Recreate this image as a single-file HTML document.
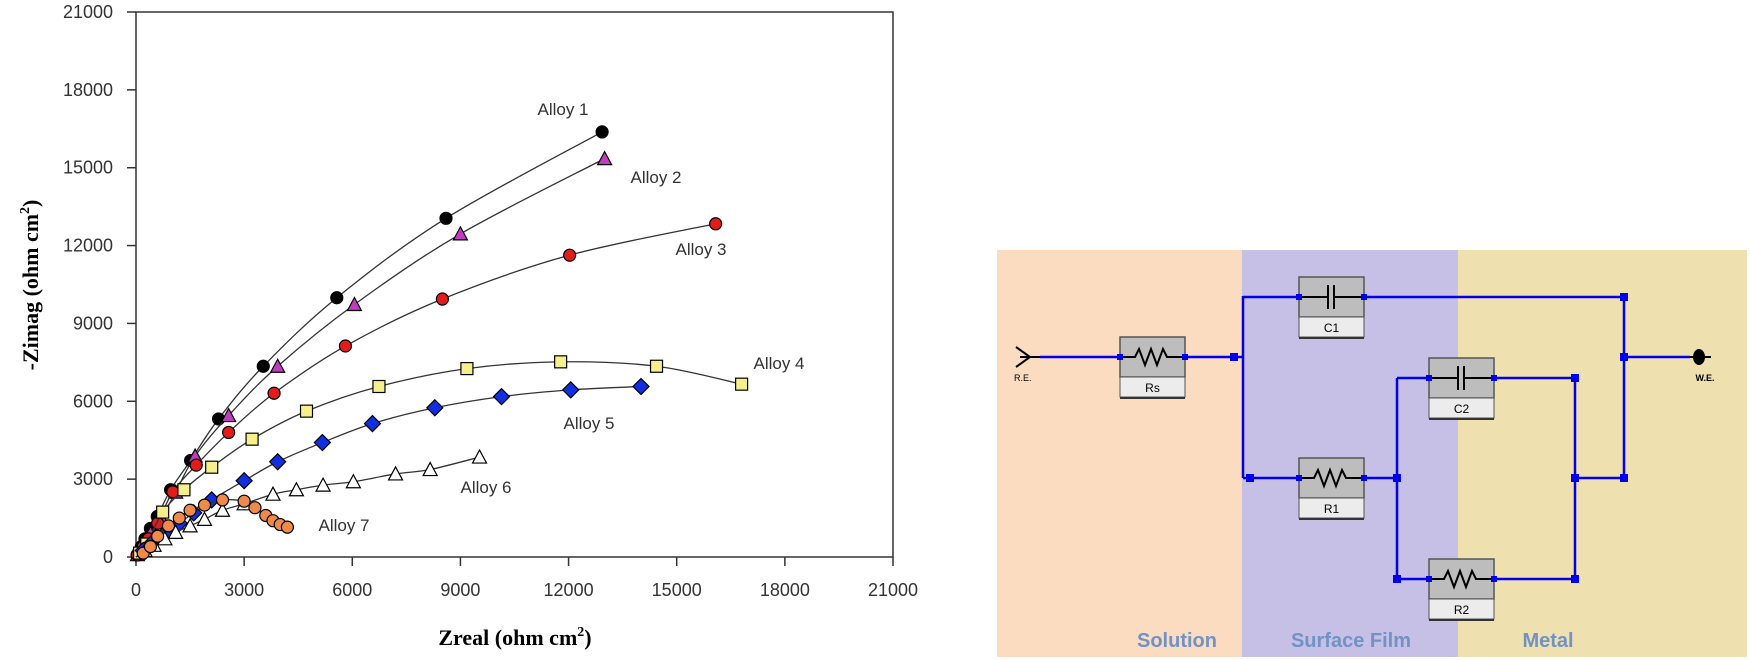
<!DOCTYPE html>
<html><head><meta charset="utf-8"><style>
body{margin:0;background:#fff;}
svg{display:block;}
</style></head><body>
<svg id="root" width="1750" height="660" xmlns="http://www.w3.org/2000/svg">
<g id="chart"></g>
<g id="circuit">
  <rect x="997" y="250" width="245" height="407" fill="#fbdcc0"/>
  <rect x="1242" y="250" width="216" height="407" fill="#c7c0e6"/>
  <rect x="1458" y="250" width="289" height="407" fill="#efe0b0"/>
  <g stroke="#0000ee" stroke-width="2.5" fill="none">
    <path d="M1040 357H1120M1185 357H1243M1243 296V478M1243 297H1299M1363 297H1624V478M1243 478H1299M1364 478H1397M1397 378V579M1397 378H1429M1493 378H1575V579M1397 579H1429M1493 579H1575M1575 478H1624M1624 357H1690"/>
  </g>
  <g fill="#0000ee">
    <rect x="1230" y="353" width="8" height="8"/><rect x="1246" y="474" width="8" height="8"/>
    <rect x="1620" y="293" width="8" height="8"/><rect x="1620" y="353" width="8" height="8"/><rect x="1620" y="474" width="8" height="8"/>
    <rect x="1393" y="474" width="8" height="8"/><rect x="1393" y="575" width="8" height="8"/>
    <rect x="1571" y="374" width="8" height="8"/><rect x="1571" y="474" width="8" height="8"/><rect x="1571" y="575" width="8" height="8"/>
  </g>
  <path d="M1016 347L1030 357L1016 367M1020 357H1040" stroke="#000" stroke-width="2" fill="none"/>
  <text x="1014" y="381" font-family="Liberation Sans,sans-serif" font-size="9">R.E.</text>
  <ellipse cx="1699" cy="357" rx="6" ry="8" fill="#000"/>
  <line x1="1690" y1="357" x2="1711" y2="357" stroke="#000" stroke-width="2"/>
  <text x="1705" y="381" text-anchor="middle" font-family="Liberation Sans,sans-serif" font-size="9" font-weight="bold">W.E.</text>
  <g id="comps"></g>
  <g font-family="Liberation Sans,sans-serif" font-size="20" font-weight="bold" fill="#7092c4" text-anchor="middle">
    <text x="1177" y="647">Solution</text>
    <text x="1351" y="647">Surface Film</text>
    <text x="1548" y="647">Metal</text>
  </g>
</g>
</svg>
<script>
const NS="http://www.w3.org/2000/svg";
const xMax=21000,yMax=21000;
const xTicks=[0,3000,6000,9000,12000,15000,18000,21000];
const yTicks=[0,3000,6000,9000,12000,15000,18000,21000];
const seriesNames=["Alloy 1","Alloy 2","Alloy 3","Alloy 4","Alloy 5","Alloy 6","Alloy 7"];
const alloy1X=[30,80,150,250,400,590,960,1515,2290,3530,5570,8600,12930];
const alloy1Y=[80,200,400,700,1100,1560,2590,3720,5320,7350,9990,13050,16380];
const alloy2X=[40,100,200,400,700,1100,1640,2570,3930,6060,9000,13000];
const alloy2Y=[90,230,450,900,1500,2500,3890,5450,7350,9730,12450,15350];
const alloy3X=[40,100,200,350,600,1020,1670,2570,3830,5810,8500,12030,16080];
const alloy3Y=[80,200,400,700,1300,2510,3540,4800,6310,8130,9940,11630,12840];
const alloy4X=[100,300,740,1330,2100,3220,4730,6740,9180,11780,14440,16800];
const alloy4Y=[150,500,1730,2590,3460,4540,5620,6570,7260,7520,7350,6660];
const alloy5X=[200,450,800,1200,1600,2100,3000,3930,5170,6560,8290,10140,12060,14010];
const alloy5Y=[250,550,900,1300,1700,2200,2940,3670,4410,5140,5750,6180,6440,6570];
const alloy6X=[250,500,800,1100,1500,1900,2400,3000,3800,4450,5190,6030,7200,8160,9530];
const alloy6Y=[250,450,700,950,1200,1450,1800,2050,2420,2590,2770,2900,3200,3370,3850];
const alloy7X=[200,400,600,900,1200,1500,1900,2400,3000,3300,3600,3800,4000,4200];
const alloy7Y=[150,400,800,1200,1500,1800,2000,2200,2150,1900,1600,1400,1250,1150];
const X0=136,X1=893,Y0=557,Y1=12;
const sx=v=>X0+(X1-X0)*v/xMax, sy=v=>Y0-(Y0-Y1)*v/yMax;
const chart=document.getElementById('chart');
function mk(tag,attrs,parent){const e=document.createElementNS(NS,tag);for(const k in attrs)e.setAttribute(k,attrs[k]);(parent||chart).appendChild(e);return e;}
const frame=mk('rect',{x:X0,y:Y1,width:X1-X0,height:Y0-Y1,fill:'none',stroke:'#333','stroke-width':1.5});


xTicks.forEach(t=>{
  const l=mk('line',{x1:sx(t),x2:sx(t),y1:Y0,y2:Y0+9,stroke:'#333','stroke-width':1.5});
  
  
  const tx=mk('text',{x:sx(t),y:596,'text-anchor':'middle','font-family':'Liberation Sans,sans-serif','font-size':18,fill:'#333'});
  tx.textContent=t;
  
  
});
yTicks.forEach(t=>{
  const l=mk('line',{x1:X0-9,x2:X0,y1:sy(t),y2:sy(t),stroke:'#333','stroke-width':1.5});
  
  
  const tx=mk('text',{x:113,y:sy(t)+6,'text-anchor':'end','font-family':'Liberation Sans,sans-serif','font-size':18,fill:'#333'});
  tx.textContent=t;
  
  
});
const xt=mk('text',{x:515,y:645,'text-anchor':'middle','font-family':'Liberation Serif,serif','font-size':22,'font-weight':'bold'});
xt.innerHTML='Zreal (ohm cm<tspan dy="-9" font-size="14">2</tspan><tspan dy="9">)</tspan>';


const yt=mk('text',{transform:'translate(38,285) rotate(-90)','text-anchor':'middle','font-family':'Liberation Serif,serif','font-size':22,'font-weight':'bold'});
yt.innerHTML='-Zimag (ohm cm<tspan dy="-9" font-size="14">2</tspan><tspan dy="9">)</tspan>';


const series=[
 [alloy1X,alloy1Y,'circle','#000'],[alloy2X,alloy2Y,'tri','#c03cc0'],[alloy3X,alloy3Y,'circle','#e21b1b'],
 [alloy4X,alloy4Y,'square','#f6f08c'],[alloy5X,alloy5Y,'diamond','#1030e0'],[alloy6X,alloy6Y,'tri','#fff'],[alloy7X,alloy7Y,'circle','#f08a48']];
const labelPos=[[563,109],[656,177],[701,249],[779,363],[589,423],[486,487],[344,525]];
function smooth(pts){let d='M'+pts[0][0]+' '+pts[0][1];for(let i=0;i<pts.length-1;i++){const p0=pts[Math.max(i-1,0)],p1=pts[i],p2=pts[i+1],p3=pts[Math.min(i+2,pts.length-1)];const c1=[p1[0]+(p2[0]-p0[0])/6,p1[1]+(p2[1]-p0[1])/6],c2=[p2[0]-(p3[0]-p1[0])/6,p2[1]-(p3[1]-p1[1])/6];d+=`C${c1} ${c2} ${p2}`;}return d;}
series.forEach((s,si)=>{
  const g=mk('g',{});
  
  
  const pts=s[0].map((x,i)=>[sx(x),sy(s[1][i])]);
  const ln=mk('path',{d:smooth([[sx(0),sy(0)]].concat(pts)),fill:'none',stroke:'#333','stroke-width':1.3},g);
  
  
  pts.forEach(([x,y])=>{
    let m;const st={fill:s[3],stroke:'#000','stroke-width':1.2};
    if(s[2]==='circle')m=mk('circle',Object.assign({cx:x,cy:y,r:6},st),g);
    else if(s[2]==='square')m=mk('rect',Object.assign({x:x-6,y:y-6,width:12,height:12},st),g);
    else if(s[2]==='diamond')m=mk('path',Object.assign({d:`M${x} ${y-8}L${x+8} ${y}L${x} ${y+8}L${x-8} ${y}Z`},st),g);
    else m=mk('path',Object.assign({d:`M${x} ${y-7}L${x+7} ${y+6}L${x-7} ${y+6}Z`},st),g);
    
    
  });
  const t=mk('text',{x:labelPos[si][0],y:labelPos[si][1]+6,'text-anchor':'middle','font-family':'Liberation Sans,sans-serif','font-size':17,fill:'#333'});
  t.textContent=seriesNames[si];
  
  
});
// circuit components
const comps=document.getElementById('comps');
[['Rs',1120,337,'R'],['C1',1299,277,'C'],['R1',1299,458,'R'],['C2',1429,358,'C'],['R2',1429,559,'R']].forEach(c=>{
  const [n,x,y,type]=c,w=65;
  const g=mk('g',{},comps);
  
  
  mk('rect',{x:x,y:y,width:w,height:40,fill:'#bdbdbd',stroke:'#555','stroke-width':1.5},g);
  mk('rect',{x:x,y:y+40,width:w,height:20,fill:'#ececec',stroke:'#555','stroke-width':1},g);
  mk('line',{x1:x,y1:y+61,x2:x+w,y2:y+61,stroke:'#333','stroke-width':2},g);
  const cy=y+20;
  if(type==='R')mk('path',{d:`M${x} ${cy}H${x+15}l4 -8 6 16 6 -16 6 16 6 -16 4 8H${x+w}`,fill:'none',stroke:'#000','stroke-width':2},g);
  else mk('path',{d:`M${x} ${cy}H${x+29}M${x+29} ${cy-12}V${cy+12}M${x+35} ${cy-12}V${cy+12}M${x+35} ${cy}H${x+w}`,fill:'none',stroke:'#000','stroke-width':2},g);
  mk('rect',{x:x-3,y:cy-3,width:6,height:6,fill:'#0000ee'},g);
  mk('rect',{x:x+w-3,y:cy-3,width:6,height:6,fill:'#0000ee'},g);
  const t=mk('text',{x:x+w/2,y:y+55,'text-anchor':'middle','font-family':'Liberation Sans,sans-serif','font-size':12},g);
  t.textContent=n;
});
</script>
</body></html>
